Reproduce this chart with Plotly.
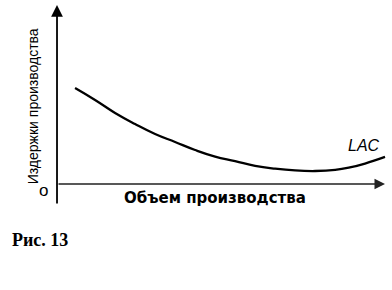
import plotly.graph_objects as go

# Long-run average cost curve (LAC): output volume vs cost (arbitrary units)
volume = [0.55, 1.16, 1.77, 2.38, 2.99, 3.60, 4.21, 4.82, 5.43, 6.04, 6.65, 7.26,
          7.87, 8.48, 8.93, 9.39, 10.0]
cost = [5.39, 4.72, 3.99, 3.37, 2.81, 2.36, 1.91, 1.54, 1.29, 1.02, 0.86, 0.76,
        0.73, 0.79, 0.93, 1.15, 1.52]

x_label = "Объем производства"
y_label = "Издержки производства"
curve_label = "LAC"
origin_label = "o"
caption = "Рис. 13"

# axis extents in data units
x_axis_end = 10.0
y_axis_top = 10.06
y_axis_bottom = -1.18

fig = go.Figure()
fig.add_trace(go.Scatter(x=volume, y=cost, mode="lines",
                         line=dict(color="black", width=2.3, shape="spline", smoothing=1.3),
                         hoverinfo="skip", showlegend=False))

annotations = [
    # y axis with arrow
    dict(x=0, y=y_axis_top, ax=0, ay=y_axis_bottom, xref="x", yref="y", axref="x", ayref="y",
         text="", showarrow=True, arrowhead=2, arrowsize=1.3, arrowwidth=1.8, arrowcolor="black"),
    # x axis with arrow
    dict(x=x_axis_end, y=0, ax=0, ay=0, xref="x", yref="y", axref="x", ayref="y",
         text="", showarrow=True, arrowhead=2, arrowsize=1.4, arrowwidth=1.5, arrowcolor="#222"),
    dict(x=-0.74, y=4.35, xref="x", yref="y", text=y_label, textangle=-90, showarrow=False,
         font=dict(family="Liberation Sans", size=14, color="black")),
    dict(x=4.82, y=-0.80, xref="x", yref="y", text="<b>" + x_label + "</b>", showarrow=False,
         font=dict(family="DejaVu Sans", size=15, color="black")),
    dict(x=9.36, y=2.19, xref="x", yref="y", text="<i>" + curve_label + "</i>", showarrow=False,
         font=dict(family="Liberation Sans", size=16, color="black")),
    dict(x=-0.40, y=-0.36, xref="x", yref="y", text=origin_label, showarrow=False,
         font=dict(family="Liberation Sans", size=17, color="black")),
    dict(x=-1.433, y=-3.15, xref="x", yref="y", text="<b>" + caption + "</b>", showarrow=False,
         xanchor="left", font=dict(family="Liberation Serif", size=18, color="black")),
]

fig.update_layout(
    width=392, height=290,
    margin=dict(l=0, r=0, t=0, b=0),
    paper_bgcolor="white", plot_bgcolor="white",
    xaxis=dict(range=[-1.738, 10.213], visible=False, fixedrange=True),
    yaxis=dict(range=[-5.955, 10.337], visible=False, fixedrange=True),
    annotations=annotations,
    showlegend=False,
)

fig.write_html("out.html")
